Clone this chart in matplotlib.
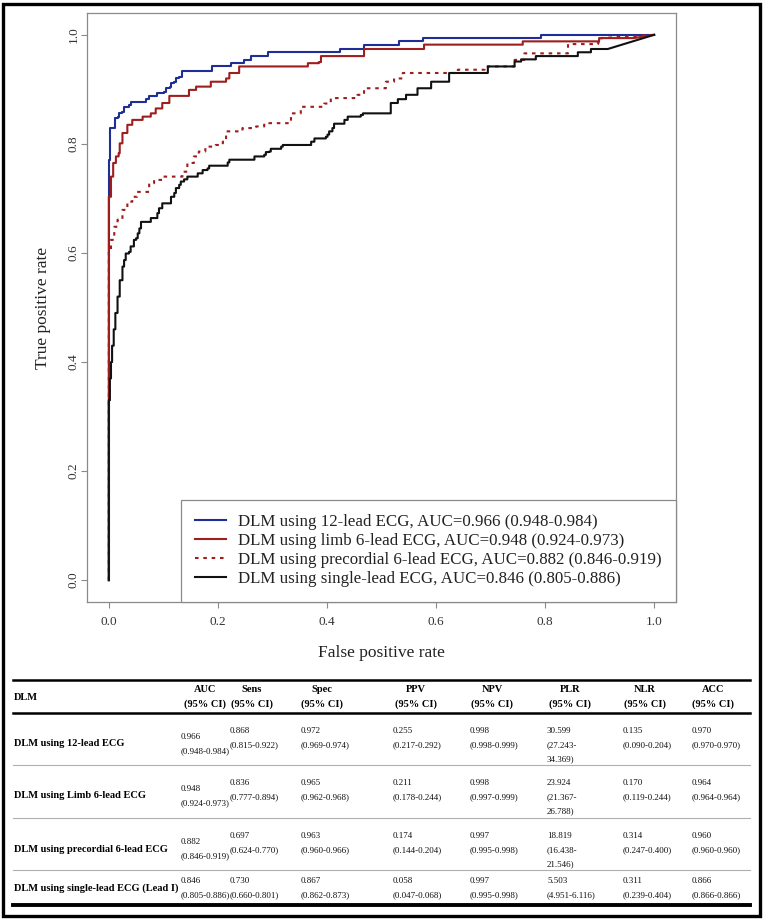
import matplotlib
matplotlib.use("Agg")
import matplotlib.pyplot as plt
from matplotlib.lines import Line2D
from matplotlib.patches import Rectangle

plt.rcParams['font.family'] = ['Liberation Serif', 'DejaVu Serif']

W, H, DPI = 764, 919, 100

# ---------------- ROC data ----------------
fpr_12 = [0, 0, 0.001, 0.002, 0.012, 0.016, 0.019, 0.025, 0.028, 0.037, 0.040, 0.068, 0.073,
          0.089, 0.101, 0.105, 0.112, 0.114, 0.120, 0.123, 0.128, 0.135, 0.190, 0.224, 0.248,
          0.261, 0.291, 0.423, 0.468, 0.533, 0.576, 0.793, 1.0]
tpr_12 = [0, 0.69, 0.77, 0.829, 0.847, 0.850, 0.856, 0.859, 0.868, 0.872, 0.876, 0.882, 0.887,
          0.894, 0.896, 0.902, 0.905, 0.911, 0.914, 0.920, 0.923, 0.934, 0.942, 0.948, 0.954,
          0.961, 0.968, 0.974, 0.982, 0.988, 0.994, 1.0, 1.0]

fpr_limb = [0, 0, 0.004, 0.008, 0.013, 0.018, 0.020, 0.025, 0.034, 0.043, 0.062, 0.077, 0.086,
            0.098, 0.111, 0.147, 0.160, 0.187, 0.215, 0.221, 0.239, 0.365, 0.385, 0.389, 0.468,
            0.578, 0.759, 0.899, 0.963, 1.0]
tpr_limb = [0, 0.703, 0.740, 0.765, 0.777, 0.783, 0.801, 0.820, 0.835, 0.844, 0.850, 0.856, 0.865,
            0.875, 0.888, 0.899, 0.905, 0.914, 0.920, 0.930, 0.942, 0.948, 0.950, 0.961, 0.974,
            0.982, 0.988, 0.994, 0.994, 1.0]

fpr_pre = [0, 0, 0.004, 0.010, 0.016, 0.025, 0.034, 0.043, 0.052, 0.074, 0.083, 0.098, 0.135,
           0.144, 0.156, 0.165, 0.177, 0.196, 0.209, 0.215, 0.245, 0.270, 0.285, 0.334, 0.352,
           0.395, 0.407, 0.456, 0.468, 0.508, 0.523, 0.539, 0.640, 0.689, 0.744, 0.762, 0.842,
           0.897, 0.903, 1.0]
tpr_pre = [0, 0.606, 0.624, 0.648, 0.661, 0.679, 0.694, 0.703, 0.712, 0.728, 0.734, 0.740, 0.749,
           0.765, 0.777, 0.786, 0.795, 0.798, 0.804, 0.823, 0.829, 0.832, 0.838, 0.856, 0.868,
           0.874, 0.884, 0.890, 0.902, 0.914, 0.920, 0.930, 0.936, 0.942, 0.954, 0.966, 0.983,
           0.986, 0.994, 1.0]

fpr_single = [0, 0, 0.002, 0.004, 0.006, 0.009, 0.012, 0.016, 0.020, 0.025, 0.028, 0.031, 0.037,
              0.040, 0.046, 0.050, 0.053, 0.056, 0.059, 0.077, 0.089, 0.092, 0.098, 0.114, 0.120,
              0.123, 0.129, 0.132, 0.138, 0.144, 0.163, 0.172, 0.181, 0.184, 0.218, 0.221, 0.267,
              0.285, 0.288, 0.294, 0.297, 0.316, 0.319, 0.371, 0.377, 0.398, 0.401, 0.404, 0.410,
              0.413, 0.432, 0.438, 0.462, 0.466, 0.517, 0.530, 0.545, 0.566, 0.591, 0.624, 0.695,
              0.744, 0.756, 0.783, 0.860, 0.884, 0.915, 1.0]
tpr_single = [0, 0.33, 0.37, 0.40, 0.43, 0.46, 0.49, 0.52, 0.55, 0.575, 0.587, 0.599, 0.602,
              0.612, 0.624, 0.627, 0.636, 0.645, 0.657, 0.664, 0.673, 0.682, 0.691, 0.703, 0.710,
              0.719, 0.725, 0.731, 0.735, 0.740, 0.746, 0.752, 0.755, 0.760, 0.766, 0.771, 0.777,
              0.780, 0.785, 0.786, 0.791, 0.795, 0.798, 0.804, 0.810, 0.813, 0.817, 0.823, 0.829,
              0.837, 0.844, 0.850, 0.853, 0.856, 0.875, 0.882, 0.890, 0.902, 0.914, 0.930, 0.942,
              0.951, 0.955, 0.961, 0.968, 0.974, 0.974, 1.0]

legend_labels = [
    "DLM using 12-lead ECG, AUC=0.966 (0.948-0.984)",
    "DLM using limb 6-lead ECG, AUC=0.948 (0.924-0.973)",
    "DLM using precordial 6-lead ECG, AUC=0.882 (0.846-0.919)",
    "DLM using single-lead ECG, AUC=0.846 (0.805-0.886)",
]
tick_values = [0.0, 0.2, 0.4, 0.6, 0.8, 1.0]
tick_labels = ["0.0", "0.2", "0.4", "0.6", "0.8", "1.0"]

# ---------------- table data ----------------
col_headers = ["AUC", "Sens", "Spec", "PPV", "NPV", "PLR", "NLR", "ACC"]
row_labels = ["DLM using 12-lead ECG", "DLM using Limb 6-lead ECG",
              "DLM using precordial 6-lead ECG", "DLM using single-lead ECG (Lead I)"]
auc_vals = ["0.966\n(0.948-0.984)", "0.948\n(0.924-0.973)", "0.882\n(0.846-0.919)", "0.846\n(0.805-0.886)"]
sens_vals = ["0.868\n(0.815-0.922)", "0.836\n(0.777-0.894)", "0.697\n(0.624-0.770)", "0.730\n(0.660-0.801)"]
spec_vals = ["0.972\n(0.969-0.974)", "0.965\n(0.962-0.968)", "0.963\n(0.960-0.966)", "0.867\n(0.862-0.873)"]
ppv_vals = ["0.255\n(0.217-0.292)", "0.211\n(0.178-0.244)", "0.174\n(0.144-0.204)", "0.058\n(0.047-0.068)"]
npv_vals = ["0.998\n(0.998-0.999)", "0.998\n(0.997-0.999)", "0.997\n(0.995-0.998)", "0.997\n(0.995-0.998)"]
plr_vals = ["30.599\n(27.243-\n34.369)", "23.924\n(21.367-\n26.788)", "18.819\n(16.438-\n21.546)", "5.503\n(4.951-6.116)"]
nlr_vals = ["0.135\n(0.090-0.204)", "0.170\n(0.119-0.244)", "0.314\n(0.247-0.400)", "0.311\n(0.239-0.404)"]
acc_vals = ["0.970\n(0.970-0.970)", "0.964\n(0.964-0.964)", "0.960\n(0.960-0.960)", "0.866\n(0.866-0.866)"]


def step_path(x, y):
    """ROC staircase: horizontal then vertical between points, last segment straight."""
    xs, ys = [x[0]], [y[0]]
    for i in range(1, len(x) - 1):
        xs += [x[i], x[i]]
        ys += [y[i - 1], y[i]]
    xs.append(x[-1]); ys.append(y[-1])
    return xs, ys


def fx(px):
    return px / W


def fy(py):
    return 1 - py / H


fig = plt.figure(figsize=(W / DPI, H / DPI), dpi=DPI)

# ---------------- ROC axes ----------------
ax = fig.add_axes([fx(87), fy(602), fx(676) - fx(87), fy(13) - fy(602)])
blue = "#1f2d96"
red = "#9e1d1d"
lw = 1.5
ax.plot(*step_path(fpr_12, tpr_12), color=blue, lw=lw, label=legend_labels[0])
ax.plot(*step_path(fpr_limb, tpr_limb), color=red, lw=lw, label=legend_labels[1])
ax.plot(*step_path(fpr_pre, tpr_pre), color=red, lw=lw, ls=(0, (1.7, 2.3)), label=legend_labels[2])
ax.plot(*step_path(fpr_single, tpr_single), color="#111111", lw=lw, label=legend_labels[3])

ax.set_xlim(-0.04, 1.04)
ax.set_ylim(-0.04, 1.04)
ax.set_xticks(tick_values)
ax.set_xticklabels(tick_labels)
ax.set_yticks(tick_values)
ax.set_yticklabels(tick_labels, rotation=90, va="center")
for s in ax.spines.values():
    s.set_color("#8a8a8a")
    s.set_linewidth(0.9)
ax.tick_params(colors="#8a8a8a", length=4, width=0.8, labelsize=9.5, labelcolor="#333333")
ax.tick_params(axis="x", pad=6)
ax.tick_params(axis="y", pad=1.5)
ax.set_xlabel("False positive rate", fontsize=12.5, color="#222222", labelpad=12)
ax.set_ylabel("True positive rate", fontsize=12.5, color="#222222", labelpad=12)

leg = ax.legend(loc="lower right", bbox_to_anchor=(1.0, 0.0), borderaxespad=0.0,
                fontsize=12.2, frameon=True, fancybox=False, framealpha=1,
                edgecolor="#8a8a8a", handlelength=1.8, handletextpad=0.7,
                labelspacing=0.18, borderpad=0.86)
leg.get_frame().set_linewidth(0.9)
for t in leg.get_texts():
    t.set_color("#222222")

# ---------------- table ----------------
tab_left, tab_right = 13, 750
y_top, y_head, y_bottom = 680, 713, 905
row_tops = [713, 765, 818, 870]
row_bots = [765, 818, 870, 905]

fig.add_artist(Line2D([fx(tab_left), fx(tab_right)], [fy(y_top), fy(y_top)], color="black", lw=1.8))
fig.add_artist(Line2D([fx(tab_left), fx(tab_right)], [fy(y_head), fy(y_head)], color="black", lw=1.8))
fig.add_artist(Line2D([fx(tab_left), fx(tab_right)], [fy(y_bottom), fy(y_bottom)], color="black", lw=2.8))
for yb in row_bots[:-1]:
    fig.add_artist(Line2D([fx(tab_left), fx(tab_right)], [fy(yb), fy(yb)], color="#b0b0b0", lw=0.8))

bold_fs = 7.5
num_fs = 6.5
line_h = 14

col_left = [181, 230, 301, 393, 470, 547, 623, 692]
col_center = [205, 252, 322, 416, 492, 570, 645, 713]

fig.text(fx(14), fy(697), "DLM", fontsize=bold_fs, fontweight="bold", va="center", ha="left")
for h, cx in zip(col_headers, col_center):
    fig.text(fx(cx), fy(690), h, fontsize=bold_fs, fontweight="bold", va="center", ha="center")
    fig.text(fx(cx), fy(704), "(95% CI)", fontsize=bold_fs, fontweight="bold", va="center", ha="center")

columns = [auc_vals, sens_vals, spec_vals, ppv_vals, npv_vals, plr_vals, nlr_vals, acc_vals]
for r in range(4):
    top, bot = row_tops[r], row_bots[r]
    if r == 3:
        label_y = top + 18
        auc_start = top + 11
        val_start = top + 11
    else:
        label_y = top + 31
        auc_start = top + 24
        val_start = top + 18
    fig.text(fx(14), fy(label_y), row_labels[r], fontsize=bold_fs, fontweight="bold",
             va="center", ha="left")
    for c, vals in enumerate(columns):
        start = auc_start if c == 0 else val_start
        for k, ln in enumerate(vals[r].split("\n")):
            fig.text(fx(col_left[c]), fy(start + k * line_h), ln, fontsize=num_fs,
                     va="center", ha="left", color="#111111")

# outer frame
fig.add_artist(Rectangle((fx(3), fy(916)), fx(760) - fx(3), fy(4) - fy(916),
                         fill=False, edgecolor="black", lw=2.4))

fig.savefig("out.png", dpi=DPI)
